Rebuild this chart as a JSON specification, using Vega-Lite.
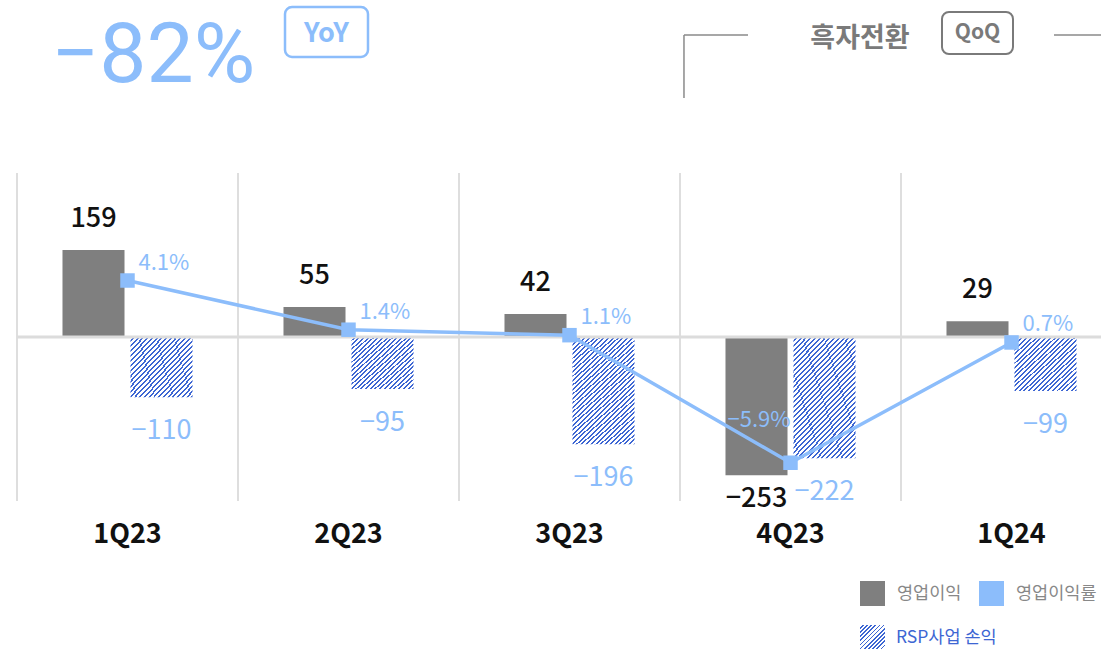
{
  "$schema": "https://vega.github.io/schema/vega-lite/v6.json",
  "width": 1084,
  "height": 328,
  "autosize": {"type": "none"},
  "padding": {"left": 17, "top": 173, "right": 0, "bottom": 148},
  "background": "white",
  "config": {"view": {"stroke": null}, "font": "Noto Sans CJK KR"},
  "data": {
    "values": [
      {"q": "1Q23", "op": 159, "rsp": -110, "margin": 0.041},
      {"q": "2Q23", "op": 55, "rsp": -95, "margin": 0.014},
      {"q": "3Q23", "op": 42, "rsp": -196, "margin": 0.011},
      {"q": "4Q23", "op": -253, "rsp": -222, "margin": -0.059},
      {"q": "1Q24", "op": 29, "rsp": -99, "margin": 0.007}
    ]
  },
  "layer": [
    {
      "layer": [
        {
          "mark": {"type": "rule", "color": "#dedede", "strokeWidth": 2},
          "encoding": {
            "x": {
              "field": "q", "type": "nominal", "sort": null, "bandPosition": 0,
              "scale": {"domain": ["1Q23", "2Q23", "3Q23", "4Q23", "1Q24"], "range": [0, 1105], "paddingInner": 0, "paddingOuter": 0},
              "axis": {"title": null, "domain": false, "ticks": false, "grid": false, "labelAngle": 0, "labelFontSize": 27, "labelFontWeight": "bold", "labelColor": "#111111", "labelPadding": 20, "labelFont": "Noto Sans CJK KR"}
            }
          }
        },
        {
          "mark": {"type": "bar"},
          "encoding": {
            "x": {"field": "q", "type": "nominal", "sort": null},
            "xOffset": {"datum": "op", "type": "nominal", "scale": {"domain": ["op", "rsp"], "paddingInner": 0.088, "paddingOuter": 0.669}},
            "y": {"field": "op", "type": "quantitative", "scale": {"domain": [-300, 300], "nice": false}, "axis": null},
            "color": {
              "datum": "영업이익", "type": "nominal",
              "scale": {"domain": ["영업이익", "영업이익률"], "range": ["#7f7f7f", "#8cbdfb"]},
              "legend": {
                "title": null, "orient": "none", "legendX": 843, "legendY": 408, "direction": "horizontal",
                "columns": 2, "gridAlign": "none", "symbolType": "square", "symbolSize": 625,
                "symbolStrokeWidth": 0, "symbolOpacity": 1, "labelFontSize": 17.5, "labelOffset": 12, "columnPadding": 17,
                "labelFont": "Noto Sans CJK KR", "labelColor": "#888888"
              }
            }
          }
        },
        {
          "transform": [{"filter": "datum.rsp >= -150"}],
          "mark": {"type": "bar", "fill": {"gradient": "linear", "x1": 0, "y1": 0, "x2": 1.05, "y2": 0.95, "stops": [
            {"offset": 0, "color": "#ffffff"}, {"offset": 0.0232, "color": "#ffffff"}, {"offset": 0.0232, "color": "#3d66d3"}, {"offset": 0.04, "color": "#3d66d3"},
            {"offset": 0.04, "color": "#ffffff"}, {"offset": 0.0632, "color": "#ffffff"}, {"offset": 0.0632, "color": "#3d66d3"}, {"offset": 0.08, "color": "#3d66d3"},
            {"offset": 0.08, "color": "#ffffff"}, {"offset": 0.1032, "color": "#ffffff"}, {"offset": 0.1032, "color": "#3d66d3"}, {"offset": 0.12, "color": "#3d66d3"},
            {"offset": 0.12, "color": "#ffffff"}, {"offset": 0.1432, "color": "#ffffff"}, {"offset": 0.1432, "color": "#3d66d3"}, {"offset": 0.16, "color": "#3d66d3"},
            {"offset": 0.16, "color": "#ffffff"}, {"offset": 0.1832, "color": "#ffffff"}, {"offset": 0.1832, "color": "#3d66d3"}, {"offset": 0.2, "color": "#3d66d3"},
            {"offset": 0.2, "color": "#ffffff"}, {"offset": 0.2232, "color": "#ffffff"}, {"offset": 0.2232, "color": "#3d66d3"}, {"offset": 0.24, "color": "#3d66d3"},
            {"offset": 0.24, "color": "#ffffff"}, {"offset": 0.2632, "color": "#ffffff"}, {"offset": 0.2632, "color": "#3d66d3"}, {"offset": 0.28, "color": "#3d66d3"},
            {"offset": 0.28, "color": "#ffffff"}, {"offset": 0.3032, "color": "#ffffff"}, {"offset": 0.3032, "color": "#3d66d3"}, {"offset": 0.32, "color": "#3d66d3"},
            {"offset": 0.32, "color": "#ffffff"}, {"offset": 0.3432, "color": "#ffffff"}, {"offset": 0.3432, "color": "#3d66d3"}, {"offset": 0.36, "color": "#3d66d3"},
            {"offset": 0.36, "color": "#ffffff"}, {"offset": 0.3832, "color": "#ffffff"}, {"offset": 0.3832, "color": "#3d66d3"}, {"offset": 0.4, "color": "#3d66d3"},
            {"offset": 0.4, "color": "#ffffff"}, {"offset": 0.4232, "color": "#ffffff"}, {"offset": 0.4232, "color": "#3d66d3"}, {"offset": 0.44, "color": "#3d66d3"},
            {"offset": 0.44, "color": "#ffffff"}, {"offset": 0.4632, "color": "#ffffff"}, {"offset": 0.4632, "color": "#3d66d3"}, {"offset": 0.48, "color": "#3d66d3"},
            {"offset": 0.48, "color": "#ffffff"}, {"offset": 0.5032, "color": "#ffffff"}, {"offset": 0.5032, "color": "#3d66d3"}, {"offset": 0.52, "color": "#3d66d3"},
            {"offset": 0.52, "color": "#ffffff"}, {"offset": 0.5432, "color": "#ffffff"}, {"offset": 0.5432, "color": "#3d66d3"}, {"offset": 0.56, "color": "#3d66d3"},
            {"offset": 0.56, "color": "#ffffff"}, {"offset": 0.5832, "color": "#ffffff"}, {"offset": 0.5832, "color": "#3d66d3"}, {"offset": 0.6, "color": "#3d66d3"},
            {"offset": 0.6, "color": "#ffffff"}, {"offset": 0.6232, "color": "#ffffff"}, {"offset": 0.6232, "color": "#3d66d3"}, {"offset": 0.64, "color": "#3d66d3"},
            {"offset": 0.64, "color": "#ffffff"}, {"offset": 0.6632, "color": "#ffffff"}, {"offset": 0.6632, "color": "#3d66d3"}, {"offset": 0.68, "color": "#3d66d3"},
            {"offset": 0.68, "color": "#ffffff"}, {"offset": 0.7032, "color": "#ffffff"}, {"offset": 0.7032, "color": "#3d66d3"}, {"offset": 0.72, "color": "#3d66d3"},
            {"offset": 0.72, "color": "#ffffff"}, {"offset": 0.7432, "color": "#ffffff"}, {"offset": 0.7432, "color": "#3d66d3"}, {"offset": 0.76, "color": "#3d66d3"},
            {"offset": 0.76, "color": "#ffffff"}, {"offset": 0.7832, "color": "#ffffff"}, {"offset": 0.7832, "color": "#3d66d3"}, {"offset": 0.8, "color": "#3d66d3"},
            {"offset": 0.8, "color": "#ffffff"}, {"offset": 0.8232, "color": "#ffffff"}, {"offset": 0.8232, "color": "#3d66d3"}, {"offset": 0.84, "color": "#3d66d3"},
            {"offset": 0.84, "color": "#ffffff"}, {"offset": 0.8632, "color": "#ffffff"}, {"offset": 0.8632, "color": "#3d66d3"}, {"offset": 0.88, "color": "#3d66d3"},
            {"offset": 0.88, "color": "#ffffff"}, {"offset": 0.9032, "color": "#ffffff"}, {"offset": 0.9032, "color": "#3d66d3"}, {"offset": 0.92, "color": "#3d66d3"},
            {"offset": 0.92, "color": "#ffffff"}, {"offset": 0.9432, "color": "#ffffff"}, {"offset": 0.9432, "color": "#3d66d3"}, {"offset": 0.96, "color": "#3d66d3"},
            {"offset": 0.96, "color": "#ffffff"}, {"offset": 0.9832, "color": "#ffffff"}, {"offset": 0.9832, "color": "#3d66d3"}, {"offset": 1, "color": "#3d66d3"}
          ]}},
          "encoding": {
            "x": {"field": "q", "type": "nominal", "sort": null},
            "xOffset": {"datum": "rsp", "type": "nominal"},
            "y": {"field": "rsp", "type": "quantitative"}
          }
        },
        {
          "transform": [{"filter": "datum.rsp < -150"}],
          "mark": {"type": "bar", "fill": {"gradient": "linear", "x1": 0, "y1": 0, "x2": 0.65, "y2": 1.195, "stops": [
            {"offset": 0, "color": "#ffffff"}, {"offset": 0.0157, "color": "#ffffff"}, {"offset": 0.0157, "color": "#3d66d3"}, {"offset": 0.027, "color": "#3d66d3"},
            {"offset": 0.027, "color": "#ffffff"}, {"offset": 0.0427, "color": "#ffffff"}, {"offset": 0.0427, "color": "#3d66d3"}, {"offset": 0.0541, "color": "#3d66d3"},
            {"offset": 0.0541, "color": "#ffffff"}, {"offset": 0.0697, "color": "#ffffff"}, {"offset": 0.0697, "color": "#3d66d3"}, {"offset": 0.0811, "color": "#3d66d3"},
            {"offset": 0.0811, "color": "#ffffff"}, {"offset": 0.0968, "color": "#ffffff"}, {"offset": 0.0968, "color": "#3d66d3"}, {"offset": 0.1081, "color": "#3d66d3"},
            {"offset": 0.1081, "color": "#ffffff"}, {"offset": 0.1238, "color": "#ffffff"}, {"offset": 0.1238, "color": "#3d66d3"}, {"offset": 0.1351, "color": "#3d66d3"},
            {"offset": 0.1351, "color": "#ffffff"}, {"offset": 0.1508, "color": "#ffffff"}, {"offset": 0.1508, "color": "#3d66d3"}, {"offset": 0.1622, "color": "#3d66d3"},
            {"offset": 0.1622, "color": "#ffffff"}, {"offset": 0.1778, "color": "#ffffff"}, {"offset": 0.1778, "color": "#3d66d3"}, {"offset": 0.1892, "color": "#3d66d3"},
            {"offset": 0.1892, "color": "#ffffff"}, {"offset": 0.2049, "color": "#ffffff"}, {"offset": 0.2049, "color": "#3d66d3"}, {"offset": 0.2162, "color": "#3d66d3"},
            {"offset": 0.2162, "color": "#ffffff"}, {"offset": 0.2319, "color": "#ffffff"}, {"offset": 0.2319, "color": "#3d66d3"}, {"offset": 0.2432, "color": "#3d66d3"},
            {"offset": 0.2432, "color": "#ffffff"}, {"offset": 0.2589, "color": "#ffffff"}, {"offset": 0.2589, "color": "#3d66d3"}, {"offset": 0.2703, "color": "#3d66d3"},
            {"offset": 0.2703, "color": "#ffffff"}, {"offset": 0.2859, "color": "#ffffff"}, {"offset": 0.2859, "color": "#3d66d3"}, {"offset": 0.2973, "color": "#3d66d3"},
            {"offset": 0.2973, "color": "#ffffff"}, {"offset": 0.313, "color": "#ffffff"}, {"offset": 0.313, "color": "#3d66d3"}, {"offset": 0.3243, "color": "#3d66d3"},
            {"offset": 0.3243, "color": "#ffffff"}, {"offset": 0.34, "color": "#ffffff"}, {"offset": 0.34, "color": "#3d66d3"}, {"offset": 0.3514, "color": "#3d66d3"},
            {"offset": 0.3514, "color": "#ffffff"}, {"offset": 0.367, "color": "#ffffff"}, {"offset": 0.367, "color": "#3d66d3"}, {"offset": 0.3784, "color": "#3d66d3"},
            {"offset": 0.3784, "color": "#ffffff"}, {"offset": 0.3941, "color": "#ffffff"}, {"offset": 0.3941, "color": "#3d66d3"}, {"offset": 0.4054, "color": "#3d66d3"},
            {"offset": 0.4054, "color": "#ffffff"}, {"offset": 0.4211, "color": "#ffffff"}, {"offset": 0.4211, "color": "#3d66d3"}, {"offset": 0.4324, "color": "#3d66d3"},
            {"offset": 0.4324, "color": "#ffffff"}, {"offset": 0.4481, "color": "#ffffff"}, {"offset": 0.4481, "color": "#3d66d3"}, {"offset": 0.4595, "color": "#3d66d3"},
            {"offset": 0.4595, "color": "#ffffff"}, {"offset": 0.4751, "color": "#ffffff"}, {"offset": 0.4751, "color": "#3d66d3"}, {"offset": 0.4865, "color": "#3d66d3"},
            {"offset": 0.4865, "color": "#ffffff"}, {"offset": 0.5022, "color": "#ffffff"}, {"offset": 0.5022, "color": "#3d66d3"}, {"offset": 0.5135, "color": "#3d66d3"},
            {"offset": 0.5135, "color": "#ffffff"}, {"offset": 0.5292, "color": "#ffffff"}, {"offset": 0.5292, "color": "#3d66d3"}, {"offset": 0.5405, "color": "#3d66d3"},
            {"offset": 0.5405, "color": "#ffffff"}, {"offset": 0.5562, "color": "#ffffff"}, {"offset": 0.5562, "color": "#3d66d3"}, {"offset": 0.5676, "color": "#3d66d3"},
            {"offset": 0.5676, "color": "#ffffff"}, {"offset": 0.5832, "color": "#ffffff"}, {"offset": 0.5832, "color": "#3d66d3"}, {"offset": 0.5946, "color": "#3d66d3"},
            {"offset": 0.5946, "color": "#ffffff"}, {"offset": 0.6103, "color": "#ffffff"}, {"offset": 0.6103, "color": "#3d66d3"}, {"offset": 0.6216, "color": "#3d66d3"},
            {"offset": 0.6216, "color": "#ffffff"}, {"offset": 0.6373, "color": "#ffffff"}, {"offset": 0.6373, "color": "#3d66d3"}, {"offset": 0.6486, "color": "#3d66d3"},
            {"offset": 0.6486, "color": "#ffffff"}, {"offset": 0.6643, "color": "#ffffff"}, {"offset": 0.6643, "color": "#3d66d3"}, {"offset": 0.6757, "color": "#3d66d3"},
            {"offset": 0.6757, "color": "#ffffff"}, {"offset": 0.6914, "color": "#ffffff"}, {"offset": 0.6914, "color": "#3d66d3"}, {"offset": 0.7027, "color": "#3d66d3"},
            {"offset": 0.7027, "color": "#ffffff"}, {"offset": 0.7184, "color": "#ffffff"}, {"offset": 0.7184, "color": "#3d66d3"}, {"offset": 0.7297, "color": "#3d66d3"},
            {"offset": 0.7297, "color": "#ffffff"}, {"offset": 0.7454, "color": "#ffffff"}, {"offset": 0.7454, "color": "#3d66d3"}, {"offset": 0.7568, "color": "#3d66d3"},
            {"offset": 0.7568, "color": "#ffffff"}, {"offset": 0.7724, "color": "#ffffff"}, {"offset": 0.7724, "color": "#3d66d3"}, {"offset": 0.7838, "color": "#3d66d3"},
            {"offset": 0.7838, "color": "#ffffff"}, {"offset": 0.7995, "color": "#ffffff"}, {"offset": 0.7995, "color": "#3d66d3"}, {"offset": 0.8108, "color": "#3d66d3"},
            {"offset": 0.8108, "color": "#ffffff"}, {"offset": 0.8265, "color": "#ffffff"}, {"offset": 0.8265, "color": "#3d66d3"}, {"offset": 0.8378, "color": "#3d66d3"},
            {"offset": 0.8378, "color": "#ffffff"}, {"offset": 0.8535, "color": "#ffffff"}, {"offset": 0.8535, "color": "#3d66d3"}, {"offset": 0.8649, "color": "#3d66d3"},
            {"offset": 0.8649, "color": "#ffffff"}, {"offset": 0.8805, "color": "#ffffff"}, {"offset": 0.8805, "color": "#3d66d3"}, {"offset": 0.8919, "color": "#3d66d3"},
            {"offset": 0.8919, "color": "#ffffff"}, {"offset": 0.9076, "color": "#ffffff"}, {"offset": 0.9076, "color": "#3d66d3"}, {"offset": 0.9189, "color": "#3d66d3"},
            {"offset": 0.9189, "color": "#ffffff"}, {"offset": 0.9346, "color": "#ffffff"}, {"offset": 0.9346, "color": "#3d66d3"}, {"offset": 0.9459, "color": "#3d66d3"},
            {"offset": 0.9459, "color": "#ffffff"}, {"offset": 0.9616, "color": "#ffffff"}, {"offset": 0.9616, "color": "#3d66d3"}, {"offset": 0.973, "color": "#3d66d3"},
            {"offset": 0.973, "color": "#ffffff"}, {"offset": 0.9886, "color": "#ffffff"}, {"offset": 0.9886, "color": "#3d66d3"}, {"offset": 1, "color": "#3d66d3"}
          ]}},
          "encoding": {
            "x": {"field": "q", "type": "nominal", "sort": null},
            "xOffset": {"datum": "rsp", "type": "nominal"},
            "y": {"field": "rsp", "type": "quantitative"}
          }
        },
        {
          "mark": {"type": "rule", "color": "#dcdcdc", "strokeWidth": 3},
          "data": {"values": [{}]},
          "encoding": {"y": {"datum": 0, "type": "quantitative"}}
        },
        {
          "transform": [{"filter": "datum.op >= 0"}],
          "mark": {"type": "text", "dy": -23, "baseline": "alphabetic", "fontSize": 27, "fontWeight": 500, "color": "#111111"},
          "encoding": {
            "x": {"field": "q", "type": "nominal", "sort": null},
            "xOffset": {"datum": "op", "type": "nominal"},
            "y": {"field": "op", "type": "quantitative"},
            "text": {"field": "op", "type": "quantitative", "format": "d"}
          }
        },
        {
          "transform": [{"filter": "datum.op < 0"}],
          "mark": {"type": "text", "dy": 32, "baseline": "alphabetic", "fontSize": 27, "fontWeight": 500, "color": "#111111"},
          "encoding": {
            "x": {"field": "q", "type": "nominal", "sort": null},
            "xOffset": {"datum": "op", "type": "nominal"},
            "y": {"field": "op", "type": "quantitative"},
            "text": {"field": "op", "type": "quantitative", "format": "d"}
          }
        },
        {
          "mark": {"type": "text", "dy": 42, "baseline": "alphabetic", "fontSize": 27, "color": "#8cbdfb"},
          "encoding": {
            "x": {"field": "q", "type": "nominal", "sort": null},
            "xOffset": {"datum": "rsp", "type": "nominal"},
            "y": {"field": "rsp", "type": "quantitative"},
            "text": {"field": "rsp", "type": "quantitative", "format": "d"}
          }
        },
        {
          "data": {"values": [{}]},
          "mark": {"type": "rect", "fill": {"gradient": "linear", "x1": 0, "y1": 0, "x2": 1, "y2": 1, "stops": [
            {"offset": 0, "color": "#ffffff"}, {"offset": 0.0483, "color": "#ffffff"}, {"offset": 0.0483, "color": "#3d66d3"}, {"offset": 0.0833, "color": "#3d66d3"},
            {"offset": 0.0833, "color": "#ffffff"}, {"offset": 0.1317, "color": "#ffffff"}, {"offset": 0.1317, "color": "#3d66d3"}, {"offset": 0.1667, "color": "#3d66d3"},
            {"offset": 0.1667, "color": "#ffffff"}, {"offset": 0.215, "color": "#ffffff"}, {"offset": 0.215, "color": "#3d66d3"}, {"offset": 0.25, "color": "#3d66d3"},
            {"offset": 0.25, "color": "#ffffff"}, {"offset": 0.2983, "color": "#ffffff"}, {"offset": 0.2983, "color": "#3d66d3"}, {"offset": 0.3333, "color": "#3d66d3"},
            {"offset": 0.3333, "color": "#ffffff"}, {"offset": 0.3817, "color": "#ffffff"}, {"offset": 0.3817, "color": "#3d66d3"}, {"offset": 0.4167, "color": "#3d66d3"},
            {"offset": 0.4167, "color": "#ffffff"}, {"offset": 0.465, "color": "#ffffff"}, {"offset": 0.465, "color": "#3d66d3"}, {"offset": 0.5, "color": "#3d66d3"},
            {"offset": 0.5, "color": "#ffffff"}, {"offset": 0.5483, "color": "#ffffff"}, {"offset": 0.5483, "color": "#3d66d3"}, {"offset": 0.5833, "color": "#3d66d3"},
            {"offset": 0.5833, "color": "#ffffff"}, {"offset": 0.6317, "color": "#ffffff"}, {"offset": 0.6317, "color": "#3d66d3"}, {"offset": 0.6667, "color": "#3d66d3"},
            {"offset": 0.6667, "color": "#ffffff"}, {"offset": 0.715, "color": "#ffffff"}, {"offset": 0.715, "color": "#3d66d3"}, {"offset": 0.75, "color": "#3d66d3"},
            {"offset": 0.75, "color": "#ffffff"}, {"offset": 0.7983, "color": "#ffffff"}, {"offset": 0.7983, "color": "#3d66d3"}, {"offset": 0.8333, "color": "#3d66d3"},
            {"offset": 0.8333, "color": "#ffffff"}, {"offset": 0.8817, "color": "#ffffff"}, {"offset": 0.8817, "color": "#3d66d3"}, {"offset": 0.9167, "color": "#3d66d3"},
            {"offset": 0.9167, "color": "#ffffff"}, {"offset": 0.965, "color": "#ffffff"}, {"offset": 0.965, "color": "#3d66d3"}, {"offset": 1, "color": "#3d66d3"}
          ]}},
          "encoding": {
            "x": {"datum": "4Q23", "type": "nominal", "bandPosition": 0.8145},
            "x2": {"datum": "4Q23", "bandPosition": 0.9276},
            "y": {"datum": -526.8, "type": "quantitative"},
            "y2": {"datum": -572.5}
          }
        },
        {
          "data": {"values": [{}]},
          "mark": {"type": "text", "text": "RSP사업 손익", "align": "left", "baseline": "middle", "fontSize": 17.5, "color": "#3d66d3"},
          "encoding": {
            "x": {"datum": "4Q23", "type": "nominal", "bandPosition": 0.9774},
            "y": {"datum": -550.6, "type": "quantitative"}
          }
        },
        {
          "data": {"values": [{}]},
          "mark": {"type": "text", "text": "−82%", "align": "left", "baseline": "alphabetic", "fontSize": 84, "font": "Roboto", "fontWeight": 400, "color": "#8cbdfb"},
          "encoding": {
            "x": {"datum": "1Q23", "type": "nominal", "bandPosition": 0.155},
            "y": {"datum": 466.5, "type": "quantitative"}
          }
        },
        {
          "data": {"values": [{}]},
          "mark": {"type": "rect", "fill": "#ffffff", "stroke": "#8cbdfb", "strokeWidth": 2.5, "cornerRadius": 7},
          "encoding": {
            "x": {"datum": "2Q23", "type": "nominal", "bandPosition": 0.2127},
            "x2": {"datum": "2Q23", "bandPosition": 0.5882},
            "y": {"datum": 603.7, "type": "quantitative"},
            "y2": {"datum": 512.2}
          }
        },
        {
          "data": {"values": [{}]},
          "mark": {"type": "text", "text": "YoY", "align": "center", "baseline": "middle", "fontSize": 27, "fontWeight": "bold", "color": "#8cbdfb"},
          "encoding": {
            "x": {"datum": "2Q23", "type": "nominal", "bandPosition": 0.4005},
            "y": {"datum": 553.4, "type": "quantitative"}
          }
        },
        {
          "data": {"values": [{}]},
          "mark": {"type": "rule", "color": "#8a8a8a", "strokeWidth": 1.5},
          "encoding": {
            "x": {"datum": "4Q23", "type": "nominal", "bandPosition": 0.018},
            "x2": {"datum": "4Q23", "bandPosition": 0.3077},
            "y": {"datum": 552.4, "type": "quantitative"}
          }
        },
        {
          "data": {"values": [{}]},
          "mark": {"type": "rule", "color": "#8a8a8a", "strokeWidth": 1.5},
          "encoding": {
            "x": {"datum": "4Q23", "type": "nominal", "bandPosition": 0.018},
            "y": {"datum": 552.4, "type": "quantitative"},
            "y2": {"datum": 437.2}
          }
        },
        {
          "data": {"values": [{}]},
          "mark": {"type": "rule", "color": "#8a8a8a", "strokeWidth": 1.5},
          "encoding": {
            "x": {"datum": "1Q24", "type": "nominal", "bandPosition": 0.6923},
            "x2": {"datum": "1Q24", "bandPosition": 1},
            "y": {"datum": 552.4, "type": "quantitative"}
          }
        },
        {
          "data": {"values": [{}]},
          "mark": {"type": "text", "text": "흑자전환", "align": "center", "baseline": "middle", "fontSize": 27, "fontWeight": "bold", "color": "#7a7a7a"},
          "encoding": {
            "x": {"datum": "4Q23", "type": "nominal", "bandPosition": 0.8145},
            "y": {"datum": 545.1, "type": "quantitative"}
          }
        },
        {
          "data": {"values": [{}]},
          "mark": {"type": "rect", "fill": "#ffffff", "stroke": "#7a7a7a", "strokeWidth": 2, "cornerRadius": 7},
          "encoding": {
            "x": {"datum": "1Q24", "type": "nominal", "bandPosition": 0.1855},
            "x2": {"datum": "1Q24", "bandPosition": 0.5068},
            "y": {"datum": 594.5, "type": "quantitative"},
            "y2": {"datum": 517.7}
          }
        },
        {
          "data": {"values": [{}]},
          "mark": {"type": "text", "text": "QoQ", "align": "center", "baseline": "middle", "fontSize": 21, "fontWeight": "bold", "color": "#7a7a7a"},
          "encoding": {
            "x": {"datum": "1Q24", "type": "nominal", "bandPosition": 0.3462},
            "y": {"datum": 556.1, "type": "quantitative"}
          }
        }
      ]
    },
    {
      "layer": [
        {
          "mark": {"type": "line", "strokeWidth": 3.5, "point": {"shape": "square", "size": 210, "filled": true, "opacity": 1}},
          "encoding": {
            "x": {"field": "q", "type": "nominal", "sort": null},
            "y": {"field": "margin", "type": "quantitative", "scale": {"domain": [-0.08, 0.1], "nice": false}, "axis": null},
            "color": {"datum": "영업이익률", "type": "nominal"}
          }
        },
        {
          "transform": [{"filter": "datum.margin >= 0"}],
          "mark": {"type": "text", "align": "left", "baseline": "alphabetic", "dx": 11, "dy": -11, "fontSize": 22, "color": "#8cbdfb"},
          "encoding": {
            "x": {"field": "q", "type": "nominal", "sort": null},
            "y": {"field": "margin", "type": "quantitative"},
            "text": {"field": "margin", "type": "quantitative", "format": ".1%"}
          }
        },
        {
          "transform": [{"filter": "datum.margin < 0"}],
          "mark": {"type": "text", "align": "right", "baseline": "alphabetic", "dx": 0, "dy": -36, "fontSize": 22, "color": "#8cbdfb"},
          "encoding": {
            "x": {"field": "q", "type": "nominal", "sort": null},
            "y": {"field": "margin", "type": "quantitative"},
            "text": {"field": "margin", "type": "quantitative", "format": ".1%"}
          }
        }
      ]
    }
  ],
  "resolve": {"scale": {"y": "independent"}}
}
